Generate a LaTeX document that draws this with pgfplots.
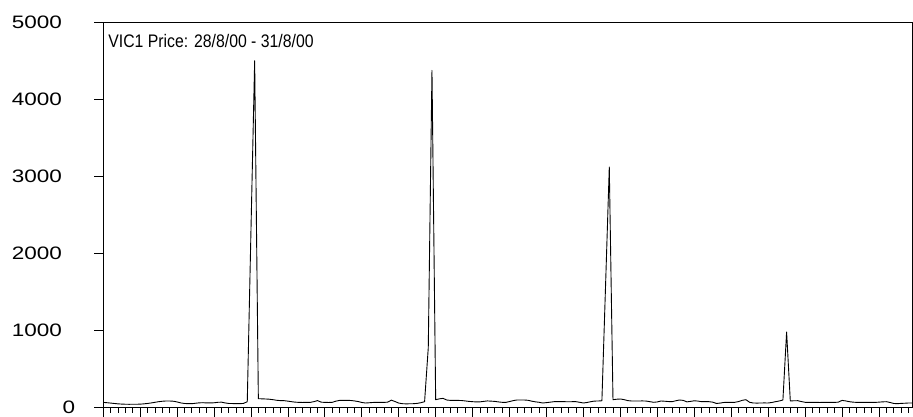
\documentclass[border=0pt]{standalone}
\usepackage{pgfplots}
\pgfplotsset{compat=1.18}
\usepackage{fontspec}
\setmainfont{Liberation Sans}
\newcommand{\tl}[1]{\scalebox{1.25}[1]{#1}}
\pgfplotstableread{
i v
0 69
1 65
2 60
3 55
4 50
5 47
6 45
7 44
8 45
9 45
10 46
11 50
12 55
13 62
14 70
15 78
16 84
17 87
18 87
19 84
20 75
21 62
22 55
23 52
24 52
25 58
26 63
27 65
28 62
29 62
30 64
31 70
32 72
33 62
34 55
35 54
36 52
37 52
38 56
39 78
40 2300
41 4506
42 117
43 115
44 113
45 110
46 104
47 96
48 92
49 91
50 85
51 78
52 72
53 69
54 68
55 70
56 69
57 78
58 92
59 72
60 69
61 68
62 70
63 85
64 95
65 96
66 95
67 94
68 88
69 80
70 68
71 61
72 64
73 68
74 69
75 70
76 69
77 72
78 98
79 80
80 60
81 52
82 50
83 51
84 52
85 56
86 65
87 78
88 780
89 4380
90 104
91 115
92 121
93 100
94 95
95 95
96 95
97 93
98 88
99 82
100 78
101 75
102 76
103 82
104 88
105 85
106 82
107 75
108 70
109 69
110 80
111 92
112 100
113 100
114 100
115 96
116 85
117 76
118 70
119 61
120 66
121 72
122 78
123 78
124 78
125 78
126 77
127 78
128 78
129 70
130 61
131 68
132 78
133 86
134 87
135 90
136 1600
137 3126
138 104
139 110
140 113
141 105
142 92
143 87
144 87
145 87
146 88
147 86
148 78
149 70
150 75
151 87
152 84
153 80
154 78
155 90
156 100
157 95
158 76
159 82
160 90
161 86
162 78
163 78
164 78
165 72
166 55
167 60
168 68
169 69
170 69
171 70
172 80
173 96
174 104
175 70
176 61
177 60
178 61
179 62
180 61
181 68
182 78
183 87
184 100
185 983
186 88
187 90
188 91
189 80
190 70
191 69
192 69
193 69
194 68
195 69
196 69
197 70
198 69
199 72
200 95
201 88
202 78
203 72
204 69
205 69
206 69
207 70
208 70
209 69
210 72
211 76
212 78
213 68
214 55
215 52
216 56
217 58
218 61
219 61
}\pricedata
\begin{document}
\begin{tikzpicture}
\path[use as bounding box] (0,0) rectangle (913pt,417pt);
\begin{axis}[
  at={(103.2pt,9.3pt)}, anchor=south west,
  scale only axis, width=809pt, height=385pt,
  xmin=0, xmax=219, ymin=0, ymax=5000,
  xtick={0,10,...,210}, xticklabels={},
  minor xtick={0,2,...,218},
  ytick={0,1000,...,5000},
  yticklabels={\tl{0}\hspace*{-15pt},\tl{1000},\tl{2000},\tl{3000},\tl{4000},\tl{5000}},
  tick align=outside,
  xtick pos=bottom, ytick pos=left,
  major tick length=9pt, minor tick length=5pt,
  tick style={black, line width=0.8pt},
  axis line style={black, line width=1pt},
  yticklabel style={anchor=east, inner sep=0pt, xshift=-32pt,
    font=\fontsize{18}{20}\selectfont},
  clip=false,
]
\addplot[black, line width=0.9pt, line join=round] table[x=i, y=v] {\pricedata};
\node[anchor=base west, inner sep=0pt, xshift=5pt, yshift=-25.3pt,
  font=\fontsize{15.8}{20}\selectfont] at (rel axis cs:0,1) {\scalebox{1}[1.15]{VIC1 Price: 28/8/00 - 31/8/00}};
\end{axis}
\end{tikzpicture}
\end{document}
